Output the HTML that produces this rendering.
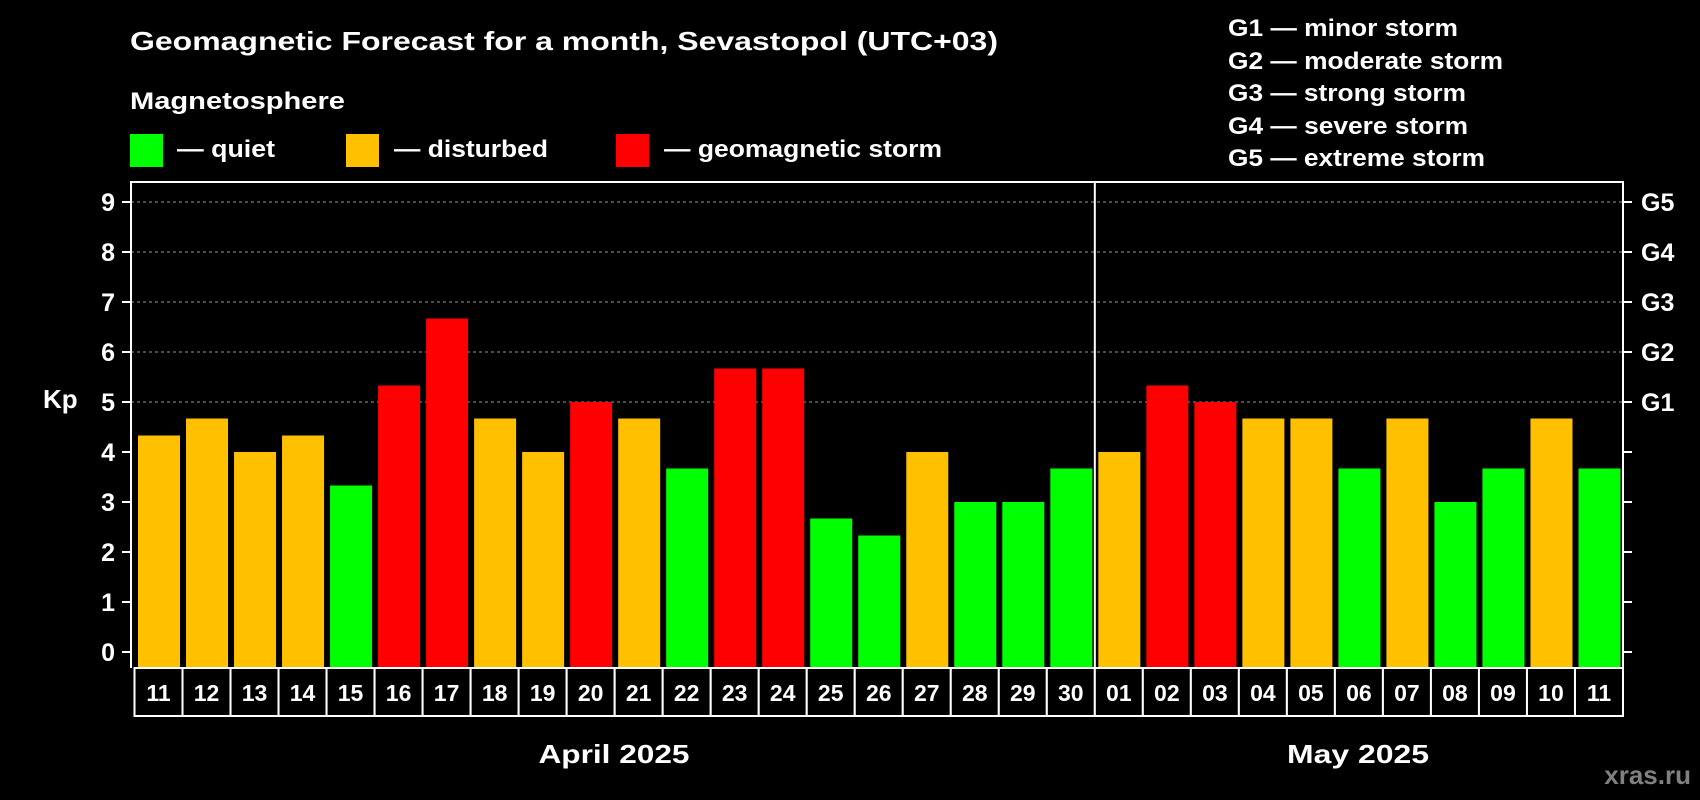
<!DOCTYPE html>
<html><head><meta charset="utf-8"><style>
html,body{margin:0;padding:0;background:#000;}
svg{display:block;font-family:"Liberation Sans",sans-serif;font-weight:bold;}
</style></head><body>
<svg id="chart" width="1700" height="800" viewBox="0 0 1700 800" xmlns="http://www.w3.org/2000/svg">
<rect width="1700" height="800" fill="#000"/>
<text x="130" y="50" fill="#fff" font-size="26" textLength="868" lengthAdjust="spacingAndGlyphs">Geomagnetic Forecast for a month, Sevastopol (UTC+03)</text>
<text x="130" y="109" fill="#fff" font-size="24" textLength="215" lengthAdjust="spacingAndGlyphs">Magnetosphere</text>
<rect x="130" y="134" width="33" height="33" fill="#00ff00"/>
<text x="177" y="157" fill="#fff" font-size="24" textLength="98" lengthAdjust="spacingAndGlyphs">— quiet</text>
<rect x="346" y="134" width="33" height="33" fill="#ffc000"/>
<text x="394" y="157" fill="#fff" font-size="24" textLength="154" lengthAdjust="spacingAndGlyphs">— disturbed</text>
<rect x="616" y="134" width="33" height="33" fill="#ff0000"/>
<text x="664" y="157" fill="#fff" font-size="24" textLength="278" lengthAdjust="spacingAndGlyphs">— geomagnetic storm</text>
<g fill="#fff" font-size="24">
<text x="1228" y="36" textLength="230" lengthAdjust="spacingAndGlyphs">G1 — minor storm</text>
<text x="1228" y="69" textLength="275" lengthAdjust="spacingAndGlyphs">G2 — moderate storm</text>
<text x="1228" y="101" textLength="238" lengthAdjust="spacingAndGlyphs">G3 — strong storm</text>
<text x="1228" y="134" textLength="240" lengthAdjust="spacingAndGlyphs">G4 — severe storm</text>
<text x="1228" y="166" textLength="257" lengthAdjust="spacingAndGlyphs">G5 — extreme storm</text>
</g>
<text x="43" y="408" fill="#fff" font-size="26">Kp</text>
<g id="plot"></g>
<text x="614" y="763" fill="#fff" font-size="26" text-anchor="middle" textLength="151" lengthAdjust="spacingAndGlyphs">April 2025</text>
<text x="1358" y="763" fill="#fff" font-size="26" text-anchor="middle" textLength="142" lengthAdjust="spacingAndGlyphs">May 2025</text>
<text x="1691" y="784" fill="#808080" font-size="26" text-anchor="end">xras.ru</text>
</svg>
<script>
const days = ["11","12","13","14","15","16","17","18","19","20","21","22","23","24","25","26","27","28","29","30","01","02","03","04","05","06","07","08","09","10","11"];
const kpValues = [4.33,4.67,4,4.33,3.33,5.33,6.67,4.67,4,5,4.67,3.67,5.67,5.67,2.67,2.33,4,3,3,3.67,4,5.33,5,4.67,4.67,3.67,4.67,3,3.67,4.67,3.67];
const yTicks = [0,1,2,3,4,5,6,7,8,9];
const gLabels = ["G1","G2","G3","G4","G5"];
const gLevels = [5,6,7,8,9];
const monthSplitIndex = 20;

const NS="http://www.w3.org/2000/svg";
const plot=document.getElementById('plot');
const L=131,R=1623,T=182,B=668,cellL=134.5,cellW=(R-cellL)/days.length;
const y=v=>652-50*v;
const x=i=>cellL+i*cellW;
function mk(tag,attrs,parent){const e=document.createElementNS(NS,tag);for(const k in attrs)e.setAttribute(k,attrs[k]);(parent||plot).appendChild(e);return e;}
function color(v){return v>=5?"#ff0000":(v>=4?"#ffc000":"#00ff00");}

// grid
gLevels.forEach(v=>{
  const g=mk('line',{x1:L,x2:R,y1:y(v),y2:y(v),stroke:"#999",'stroke-width':1,'stroke-dasharray':"3,3"});
  
  
});
// bars
kpValues.forEach((v,i)=>{
  const b=mk('rect',{x:x(i)+3.5,y:y(v),width:cellW-6,height:B-y(v)-1,fill:color(v)});
  
  
});
// axes
const ax=mk('path',{d:`M${L},${B} V${T} H${R} V${B}`,fill:"none",stroke:"#fff",'stroke-width':2});


const sep=mk('line',{x1:x(monthSplitIndex),x2:x(monthSplitIndex),y1:T,y2:B,stroke:"#fff",'stroke-width':2});


// y ticks
yTicks.forEach(v=>{
  const t=mk('line',{x1:L-9,x2:L,y1:y(v),y2:y(v),stroke:"#fff",'stroke-width':2});
  
  
  const t2=mk('line',{x1:R,x2:R+9,y1:y(v),y2:y(v),stroke:"#fff",'stroke-width':2});
  
  
  const lb=mk('text',{x:L-16,y:y(v)+9,fill:"#fff",'font-size':25,'text-anchor':"end"});
  lb.textContent=v;
  
  
});
gLabels.forEach((g,i)=>{
  const lb=mk('text',{x:R+18,y:y(gLevels[i])+9,fill:"#fff",'font-size':25});
  lb.textContent=g;
  
  
});
// date cells
days.forEach((d,i)=>{
  const c=mk('rect',{x:x(i),y:B,width:cellW,height:48,fill:"#000",stroke:"#fff",'stroke-width':2});
  
  
  const t=mk('text',{x:x(i)+cellW/2,y:B+33,fill:"#fff",'font-size':23,'text-anchor':"middle"});
  t.textContent=d;
  
  
});
</script>
</body></html>
